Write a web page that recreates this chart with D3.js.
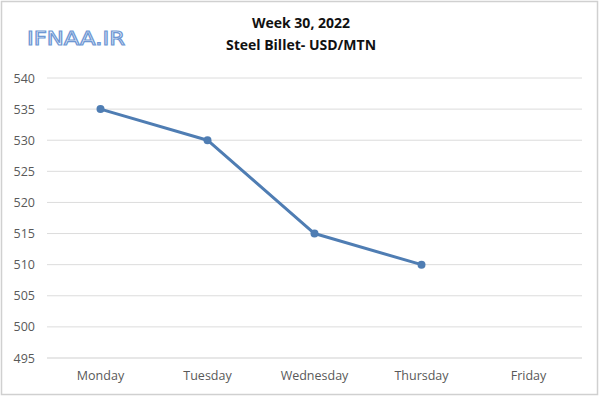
<!DOCTYPE html>
<html>
<head>
<meta charset="utf-8">
<script src="https://cdn.jsdelivr.net/npm/d3@7"></script>
<style>
  body { margin: 0; background: #fff; }
  svg { display: block; }
</style>
</head>
<body>
<svg id="chart" width="600" height="397"></svg>
<script>
// chart data
var days = ['Monday', 'Tuesday', 'Wednesday', 'Thursday', 'Friday'];
var prices = [535, 530, 515, 510, null];
var yTicks = [495, 500, 505, 510, 515, 520, 525, 530, 535, 540];
var titleLines = ['Week 30, 2022', 'Steel Billet- USD/MTN'];

var svg = d3.select('#chart');
var W = 600, H = 397;
var m = {left: 47, right: 18, top: 78, bottom: 39};

// border round the picture
svg.append('rect').attr('x', 1.5).attr('y', 1.5).attr('width', W - 4).attr('height', H - 4)
	.attr('fill', '#fff').attr('stroke', '#d0d0d0').attr('stroke-width', 1.5);

var x = d3.scaleBand().domain(days).range([m.left, W - m.right]);
var y = d3.scaleLinear().domain([495, 540]).range([H - m.bottom, m.top]);

// gridlines
svg.append('g').selectAll('line').data(yTicks).enter().append('line')
	.attr('x1', m.left).attr('x2', W - m.right)
	.attr('y1', function(d){ return y(d); })
	.attr('y2', function(d){ return y(d); })
	.attr('stroke', function(d){ return d == 495 ? '#cfcfcf' : '#dcdcdc'; })
	.attr('stroke-width', 1);

// y axis labels
var yAxis = d3.axisLeft(y).tickValues(yTicks).tickSize(0).tickPadding(12);
var yg = svg.append('g').attr('transform', 'translate(' + m.left + ',0)').call(yAxis);
yg.select('.domain').remove();
yg.selectAll('text').attr('font-family', 'Open Sans, sans-serif').attr('font-size', 12.5).attr('fill', '#595959');

// x axis labels
var xAxis = d3.axisBottom(x).tickSize(0).tickPadding(13);
var xg = svg.append('g').attr('transform', 'translate(0,' + (H - m.bottom) + ')').call(xAxis);
xg.select('.domain').remove();
xg.selectAll('text').attr('font-family', 'Open Sans, sans-serif').attr('font-size', 12.5).attr('fill', '#595959');

// line + markers
var pts = days.map(function(d, i){ return {day: d, v: prices[i]}; }).filter(function(p){ return p.v != null; });
var line = d3.line()
	.x(function(p){ return x(p.day) + x.bandwidth() / 2; })
	.y(function(p){ return y(p.v); });

svg.append('path').datum(pts).attr('d', line)
	.attr('fill', 'none').attr('stroke', '#4f7db3').attr('stroke-width', 3)
	.attr('stroke-linejoin', 'round').attr('stroke-linecap', 'round');

svg.append('g').selectAll('circle').data(pts).enter().append('circle')
	.attr('cx', function(p){ return x(p.day) + x.bandwidth() / 2; })
	.attr('cy', function(p){ return y(p.v); })
	.attr('r', 4)
	.attr('fill', '#4f7db3');

// titles
svg.selectAll('.title').data(titleLines).enter().append('text')
	.attr('class', 'title')
	.attr('x', 301)
	.attr('y', function(d, i){ return 28 + i * 22; })
	.attr('text-anchor', 'middle')
	.attr('font-family', 'Open Sans, sans-serif')
	.attr('font-weight', 'bold')
	.attr('font-size', 14)
	.attr('fill', '#111')
	.text(function(d){ return d; });

// logo text
svg.append('text').attr('x', 27).attr('y', 45)
	.attr('font-family', 'DejaVu Sans, sans-serif')
	.attr('font-size', 20)
	.attr('fill', '#eef3fb').attr('stroke', '#6f98d4').attr('stroke-width', 1.2)
	.attr('textLength', 98).attr('lengthAdjust', 'spacingAndGlyphs')
	.text('IFNAA.IR');
</script>
</body>
</html>
